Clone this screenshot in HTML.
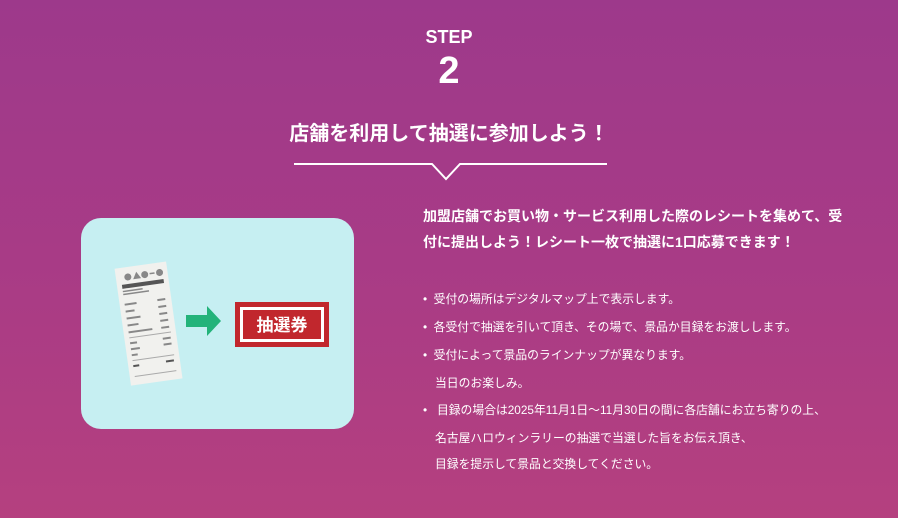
<!DOCTYPE html>
<html><head><meta charset="utf-8"><style>
*{margin:0;padding:0;box-sizing:border-box}
body{width:898px;height:518px;overflow:hidden;background:linear-gradient(180deg,#9d398b 0%,#a83b86 50%,#b5407f 100%);font-family:"Liberation Sans","Noto Sans CJK JP",sans-serif;color:#fff;position:relative}
.a{position:absolute;white-space:nowrap}
.step{left:0;width:898px;text-align:center;top:27px;font-size:18px;font-weight:900;letter-spacing:0}
.num{left:0;width:898px;text-align:center;top:50px;font-size:38px;font-weight:900}
.ttl{left:0;width:898px;text-align:center;top:117px;font-size:20px;font-weight:700}
.p{left:423px;font-size:14px;font-weight:700}
.b{left:423px;font-size:11.8px}
</style></head><body>
<div class="a step">STEP</div>
<div class="a num">2</div>
<div class="a ttl">店舗を利用して抽選に参加しよう！</div>
<svg class="a" style="left:0;top:0" width="898" height="200"><polyline points="294,164 432,164 446,179 460,164 607,164" fill="none" stroke="#fff" stroke-width="2"/></svg>
<div class="a" style="left:81px;top:218px;width:273px;height:211px;background:#c6eff2;border-radius:20px"></div>
<svg class="a" style="left:100px;top:250px" width="240" height="140">
<g transform="rotate(-8 45 70)">
<rect x="22" y="15" width="52" height="118" fill="#f1f1ee"/>
<circle cx="34" cy="25" r="3.5" fill="#888"/><polygon points="39,28 43,21 47,28" fill="#888"/><circle cx="51" cy="25" r="3.5" fill="#888"/><rect x="56" y="24" width="5" height="1.5" fill="#888"/><circle cx="66" cy="25" r="3.5" fill="#888"/>
<rect x="27" y="32" width="42" height="4" fill="#555"/>
<rect x="27" y="38" width="20" height="1.5" fill="#888"/><rect x="27" y="41" width="26" height="1.5" fill="#888"/>
<rect x="27" y="51" width="12" height="2" fill="#888"/><rect x="60" y="51" width="8" height="2" fill="#888"/>
<rect x="27" y="58" width="9" height="2" fill="#888"/><rect x="60" y="58" width="8" height="2" fill="#888"/>
<rect x="27" y="65" width="14" height="2" fill="#888"/><rect x="60" y="65" width="8" height="2" fill="#888"/>
<rect x="27" y="72" width="11" height="2" fill="#888"/><rect x="60" y="72" width="8" height="2" fill="#888"/>
<rect x="27" y="79" width="24" height="2" fill="#888"/><rect x="60" y="79" width="8" height="2" fill="#888"/>
<rect x="27" y="85" width="42" height="1" fill="#aaa"/>
<rect x="27" y="90" width="7" height="2" fill="#888"/><rect x="60" y="90" width="8" height="2" fill="#888"/>
<rect x="27" y="96" width="9" height="2" fill="#888"/><rect x="60" y="96" width="8" height="2" fill="#888"/>
<rect x="27" y="102" width="6" height="2" fill="#888"/>
<rect x="27" y="108" width="42" height="1" fill="#aaa"/>
<rect x="27" y="113" width="6" height="2" fill="#555"/><rect x="60" y="113" width="8" height="2" fill="#555"/>
<rect x="27" y="124" width="42" height="1" fill="#aaa"/>
</g>
<polygon points="86,65 107,65 107,56 121,71 107,86 107,77 86,77" fill="#23b37a"/>
<rect x="135" y="52" width="94" height="45" fill="#c1272d"/>
<rect x="140" y="57" width="84" height="35" fill="#fff"/>
<rect x="143" y="60" width="78" height="29" fill="#c1272d"/>
<text x="182" y="81" text-anchor="middle" font-size="17" font-weight="700" fill="#fff" font-family="Liberation Sans, Noto Sans CJK JP, sans-serif">抽選券</text>
</svg>
<div class="a p" style="top:206px">加盟店舗でお買い物・サービス利用した際のレシートを集めて、受</div>
<div class="a p" style="top:232px">付に提出しよう！レシート一枚で抽選に1口応募できます！</div>
<div class="a b" style="top:290px">•&nbsp;&nbsp;受付の場所はデジタルマップ上で表示します。</div>
<div class="a b" style="top:318px">•&nbsp;&nbsp;各受付で抽選を引いて頂き、その場で、景品か目録をお渡しします。</div>
<div class="a b" style="top:346px">•&nbsp;&nbsp;受付によって景品のラインナップが異なります。</div>
<div class="a b" style="top:374px;left:435px">当日のお楽しみ。</div>
<div class="a b" style="top:401px">•&nbsp;&nbsp;&nbsp;目録の場合は2025年11月1日〜11月30日の間に各店舗にお立ち寄りの上、</div>
<div class="a b" style="top:429px;left:435px">名古屋ハロウィンラリーの抽選で当選した旨をお伝え頂き、</div>
<div class="a b" style="top:455px;left:435px">目録を提示して景品と交換してください。</div>
</body></html>
